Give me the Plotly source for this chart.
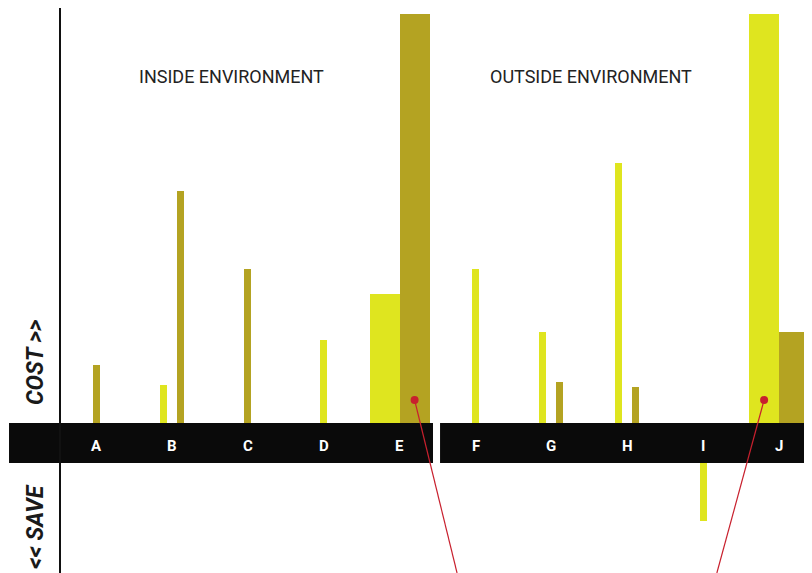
import plotly.graph_objects as go

# ---------------- data ----------------
categories = ["A", "B", "C", "D", "E", "F", "G", "H", "I", "J"]
inside_group = ["A", "B", "C", "D", "E"]
outside_group = ["F", "G", "H", "I", "J"]
# yellow series (None = no bar)
yellow_values = [None, 9.3, None, 20.3, 31.5, 37.7, 22.2, 63.6, -14.2, 100.0]
# olive series
olive_values = [14.2, 56.7, 37.7, None, 100.0, None, 10.0, 8.8, None, 22.2]
wide_categories = ["E", "J"]
highlight = [("E", "olive"), ("J", "yellow")]
group_titles = ["INSIDE ENVIRONMENT", "OUTSIDE ENVIRONMENT"]
axis_labels = ["COST >>", "<< SAVE"]

# ---------------- style ----------------
YELLOW = "#dfe51f"
OLIVE = "#b4a322"
RED = "#c8202e"
BAND = "#0a0a0a"
PAGE_OFF = 8                      # browser body margin
W, H = 812 - PAGE_OFF, 573 - PAGE_OFF
px_per_cat = 75.9
first_center_px = 96 - PAGE_OFF
px_per_unit = 4.09
zero_px = 423 - PAGE_OFF
band_units = 40 / px_per_unit

x_lo = -first_center_px / px_per_cat
x_hi = (W - first_center_px) / px_per_cat
y_hi = zero_px / px_per_unit
y_lo = -(H - zero_px) / px_per_unit


def px_x(p):
    return (p - PAGE_OFF) / W


def px_y(p):
    return 1 - (p - PAGE_OFF) / H


narrow = 7 / px_per_cat
wide = 30 / px_per_cat


def bar_geom(cat, series, other_present):
    if cat in wide_categories:
        return (-wide, wide) if series == "yellow" else (0.0, wide)
    if other_present:
        return (-0.16, narrow) if series == "yellow" else (0.065, narrow)
    return (-narrow / 2, narrow)


fig = go.Figure()
geoms = {}
for series, vals, other, col in [
    ("yellow", yellow_values, olive_values, YELLOW),
    ("olive", olive_values, yellow_values, OLIVE),
]:
    xs, ys, bases, offs, wids = [], [], [], [], []
    for cat, v, o in zip(categories, vals, other):
        if v is None:
            continue
        off, wd = bar_geom(cat, series, o is not None)
        geoms[(cat, series)] = (categories.index(cat) + off + wd / 2)
        xs.append(cat)
        ys.append(v)
        bases.append(0 if v >= 0 else -band_units)
        offs.append(off)
        wids.append(wd)
    fig.add_trace(go.Bar(x=xs, y=ys, base=bases, offset=offs, width=wids,
                         marker=dict(color=col, line=dict(width=0)),
                         hoverinfo="x+y"))

# black bands (zero zone)
band_edges = [(-1.146, 4.44), (4.533, 9.38)]
for (x0, x1) in band_edges:
    fig.add_shape(type="rect", x0=x0, x1=x1, y0=-band_units, y1=0,
                  xref="x", yref="y", fillcolor=BAND, line=dict(width=0),
                  layer="above")

# vertical axis line
fig.add_shape(type="line", x0=px_x(60), x1=px_x(60), y0=0, y1=1,
              xref="paper", yref="paper", line=dict(color="#111", width=2))

# category labels
for i, c in enumerate(categories):
    fig.add_annotation(x=i, y=-band_units / 2, text=f"<b>{c}</b>", showarrow=False,
                       xref="x", yref="y", yshift=-3,
                       xanchor="center", yanchor="middle",
                       font=dict(color="white", size=15, family="Roboto"))

# group titles
title_centers = [(136 + 326) / 2, (487 + 695) / 2]
for t, cx in zip(group_titles, title_centers):
    fig.add_annotation(x=px_x(cx), y=px_y(76), xref="paper", yref="paper",
                       text=t, showarrow=False, xanchor="center", yanchor="middle",
                       font=dict(color="#222", size=18, family="Roboto"))

# axis side labels
for t, cy in zip(axis_labels, [362, 527]):
    fig.add_annotation(x=px_x(35), y=px_y(cy), xref="paper", yref="paper",
                       text=f"<b><i>{t}</i></b>", showarrow=False, textangle=-90,
                       xanchor="center", yanchor="middle",
                       font=dict(color="#1a1a1a", size=23, family="Roboto"))

# highlight dots with leader lines
dot_y = 23 / px_per_unit
line_ends = [4.757, 8.18]
for (cat, series), xe in zip(highlight, line_ends):
    xd = geoms[(cat, series)]
    fig.add_shape(type="line", x0=xd, y0=dot_y, x1=xe, y1=y_lo,
                  xref="x", yref="y", line=dict(color=RED, width=1.2),
                  layer="above")
    fig.add_trace(go.Scatter(x=[xd], y=[dot_y], mode="markers",
                             marker=dict(color=RED, size=8),
                             hoverinfo="skip", xaxis="x2"))

fig.update_layout(
    width=W, height=H,
    margin=dict(l=0, r=0, t=0, b=0),
    paper_bgcolor="white", plot_bgcolor="white",
    barmode="overlay", showlegend=False, bargap=0,
    xaxis=dict(type="category", categoryorder="array", categoryarray=categories,
               range=[x_lo, x_hi], visible=False, fixedrange=True),
    xaxis2=dict(type="linear", range=[x_lo, x_hi], overlaying="x",
                visible=False, fixedrange=True),
    yaxis=dict(range=[y_lo, y_hi], visible=False, fixedrange=True),
)

fig.write_html("out.html")
